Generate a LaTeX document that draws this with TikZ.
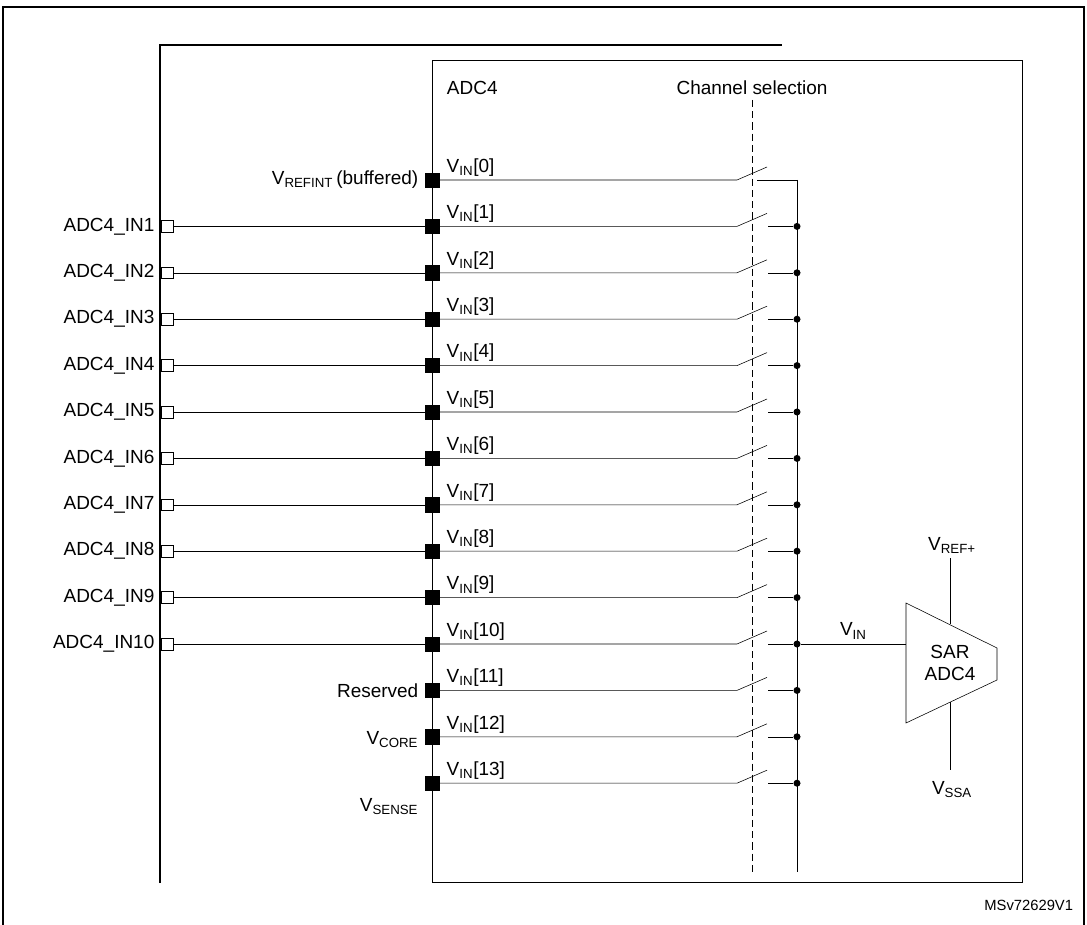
\documentclass[tikz,border=0pt]{standalone}
\usepackage{fontspec}
\setmainfont{Liberation Sans}
\usetikzlibrary{positioning}

\begin{document}
\begin{tikzpicture}[x=0.025cm,y=-0.025cm,font=\fontsize{13.5}{15}\selectfont,
    pin/.style={draw,fill=black,minimum size=10pt,inner sep=0pt},
    pad/.style={draw,fill=white,minimum size=8.5pt,inner sep=0pt},
    dot/.style={circle,fill=black,minimum size=5pt,inner sep=0pt}]
      \useasboundingbox (0,0) rectangle (1087,925);
      \draw[thick] (3,925) -- (3,7) -- (1084,7) -- (1084,925);
      \draw[line width=2pt] (160,883) -- (160,45) -- (782,45);
      \draw (432,60) rectangle (1022,882);
      \node[anchor=west] (title) at (442,88) {ADC4};
      \node (chsel) at (752,88) {Channel selection};
      \draw[dash pattern=on 5pt off 3pt] (752,100) -- (752,872);
      \draw (797,180) -- (797,872);

      % channel rows
      \foreach \i in {0,...,13} {
        \pgfmathsetmacro{\y}{180+46.4*\i}
        \node[pin] (p\i) at (432,\y) {};
        \node[anchor=south west,inner sep=1pt] at (445,\y-2) {V\textsubscript{IN}[\i]};
        \coordinate (sw\i) at (737,\y);
        \draw (p\i) -- (sw\i) -- ++(30,-13);
        \ifnum\i=0
          \draw (757,\y) -| (797,\y+12);
        \else
          \node[dot] (j\i) at (797,\y) {};
          \draw (768,\y) -- (j\i);
        \fi
      }

      % external pads
      \foreach \i in {1,...,10} {
        \node[pad] (in\i) at (167,{180+46.4*\i}) {};
        \node[left=1pt of in\i] {ADC4\_IN\i};
        \draw (in\i) -- (p\i);
      }

      \node[left=1pt of p0] {V\textsubscript{REFINT}\,(buffered)};
      \node[left=1pt of p11] {Reserved};
      \node[left=1pt of p12,yshift=-2pt] {V\textsubscript{CORE}};
      \node[below left=2pt and 1pt of p13] {V\textsubscript{SENSE}};

      % SAR converter
      \draw (906,603) -- (997,648) -- (997,680) -- (906,723) -- cycle;
      \coordinate (tri) at (906,663);
      \node[align=center] (sar) at (950,663) {SAR\\ADC4};
      \draw (j10) -- node[above] {V\textsubscript{IN}} (j10 -| tri);
      \node (vref) at (952,545) {V\textsubscript{REF+}};
      \node (vssa) at (952,790) {V\textsubscript{SSA}};
      \draw (950,558) -- (950,624);
      \draw (950,702) -- (950,770);

      \node[anchor=east] (ref) at (1078,905) {\fontsize{10.5}{12}\selectfont MSv72629V1};
    \end{tikzpicture}
\end{document}
